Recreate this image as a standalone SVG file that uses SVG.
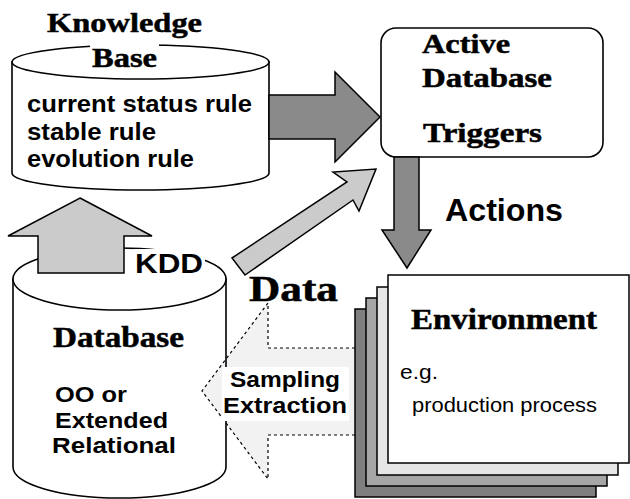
<svg xmlns="http://www.w3.org/2000/svg" width="630" height="499" viewBox="0 0 630 499">
  <style>
    .serif { font-family: "Liberation Serif", "Times New Roman", serif; font-weight: bold; fill: #000; stroke: #000; stroke-width: 0.5; }
    .sans { font-family: "Liberation Sans", Arial, sans-serif; font-weight: bold; fill: #000; }
    .plain { font-family: "Liberation Sans", Arial, sans-serif; font-weight: normal; fill: #000; }
    .outline { fill: #fff; stroke: #000; stroke-width: 1.6; }
    .dark { fill: #8a8a8a; stroke: #000; stroke-width: 1.5; stroke-linejoin: miter; }
    .light { fill: #cbcbcb; stroke: #000; stroke-width: 1.5; stroke-linejoin: miter; }
    .dashed { fill: none; stroke: #000; stroke-width: 1.2; stroke-dasharray: 3 3; }
    .sheet { stroke: #000; stroke-width: 1.5; }
  </style>

  <rect width="630" height="499" fill="#fff"/>

  <!-- Knowledge base cylinder -->
  <g id="knowledge-base">
    <path class="outline" d="M12 62 L12 173 A128.5 17 0 0 0 269 173 L269 62 Z"/>
    <ellipse class="outline" cx="140.5" cy="62" rx="128.5" ry="17"/>
    <rect x="90" y="42" width="69" height="27" fill="#fff"/>
    <text class="serif" x="124.5" y="32" font-size="28" text-anchor="middle" textLength="155" lengthAdjust="spacingAndGlyphs">Knowledge</text>
    <text class="serif" x="124.5" y="67" font-size="28" text-anchor="middle" textLength="65" lengthAdjust="spacingAndGlyphs">Base</text>
    <text class="sans" x="27" y="112" font-size="23.5" textLength="225" lengthAdjust="spacingAndGlyphs">current status rule</text>
    <text class="sans" x="27" y="139.5" font-size="23.5" textLength="129" lengthAdjust="spacingAndGlyphs">stable rule</text>
    <text class="sans" x="27" y="167" font-size="23.5" textLength="167" lengthAdjust="spacingAndGlyphs">evolution rule</text>
  </g>

  <!-- Active database box -->
  <g id="active-database">
    <rect class="outline" x="381" y="28" width="222" height="129" rx="15" ry="15"/>
    <text class="serif" x="422" y="53" font-size="28" textLength="88" lengthAdjust="spacingAndGlyphs">Active</text>
    <text class="serif" x="422" y="87" font-size="28" textLength="130" lengthAdjust="spacingAndGlyphs">Database</text>
    <text class="serif" x="423" y="142" font-size="28" textLength="119" lengthAdjust="spacingAndGlyphs">Triggers</text>
  </g>

  <!-- Database cylinder -->
  <g id="database">
    <path class="outline" d="M13 279 L13 467 A106.5 31 0 0 0 226 467 L226 279 Z"/>
    <ellipse class="outline" cx="119.5" cy="279" rx="106.5" ry="31"/>
    <text class="serif" x="53" y="347" font-size="30" textLength="131" lengthAdjust="spacingAndGlyphs">Database</text>
    <text class="sans" x="55" y="402" font-size="22" textLength="72" lengthAdjust="spacingAndGlyphs">OO or</text>
    <text class="sans" x="55" y="428" font-size="22" textLength="113" lengthAdjust="spacingAndGlyphs">Extended</text>
    <text class="sans" x="52" y="453" font-size="22" textLength="124" lengthAdjust="spacingAndGlyphs">Relational</text>
  </g>

  <!-- Environment: stacked sheets -->
  <g id="environment">
    <rect class="sheet" x="355" y="309" width="241" height="188" fill="#7f7f7f"/>
    <rect class="sheet" x="366" y="298" width="241" height="188" fill="#a6a6a6"/>
    <rect class="sheet" x="377" y="287" width="241" height="188" fill="#e6e6e6"/>
    <rect class="sheet" x="388" y="275" width="241" height="188" fill="#fff"/>
    <text class="serif" x="411" y="329" font-size="29" textLength="186" lengthAdjust="spacingAndGlyphs">Environment</text>
    <text class="plain" x="400" y="379" font-size="21" textLength="38" lengthAdjust="spacingAndGlyphs">e.g.</text>
    <text class="plain" x="412" y="412" font-size="21" textLength="185" lengthAdjust="spacingAndGlyphs">production process</text>
  </g>

  <!-- Connectors -->
  <g id="connectors">
    <!-- knowledge base to triggers -->
    <polygon class="dark" points="269,95 335,95 335,72 380,117 335,162 335,139 269,139"/>
    <!-- actions -->
    <polygon class="dark" points="394,157 419,157 419,230 431,230 407,268 382,230 394,230"/>
    <!-- KDD -->
    <polygon class="light" points="80,198 152,236 124,236 124,273 38,273 38,236 8,236"/>
    <!-- data to triggers -->
    <polygon class="light" points="232,258 347,182 333,172 376,169 359,211 353,200 245,275"/>
    <!-- sampling / extraction -->
    <polygon points="355,348 268,348 268,303 202,391 268,479 268,435 355,435" fill="#000" fill-opacity="0.05"/>
    <polyline class="dashed" points="355,348 268,348 268,303 202,391 268,479 268,435 355,435"/>

    <rect x="134" y="249" width="71" height="27" fill="#fff"/>
    <text class="sans" x="135" y="273" font-size="28" textLength="68" lengthAdjust="spacingAndGlyphs">KDD</text>
    <text class="sans" x="445" y="221" font-size="31" textLength="118" lengthAdjust="spacingAndGlyphs">Actions</text>
    <text class="serif" x="249" y="301" font-size="35" textLength="89" lengthAdjust="spacingAndGlyphs">Data</text>
    <rect x="222" y="367" width="127" height="54" fill="#fff"/>
    <text class="sans" x="230" y="387" font-size="22" textLength="110" lengthAdjust="spacingAndGlyphs">Sampling</text>
    <text class="sans" x="223" y="413" font-size="22" textLength="124" lengthAdjust="spacingAndGlyphs">Extraction</text>
  </g>
</svg>
